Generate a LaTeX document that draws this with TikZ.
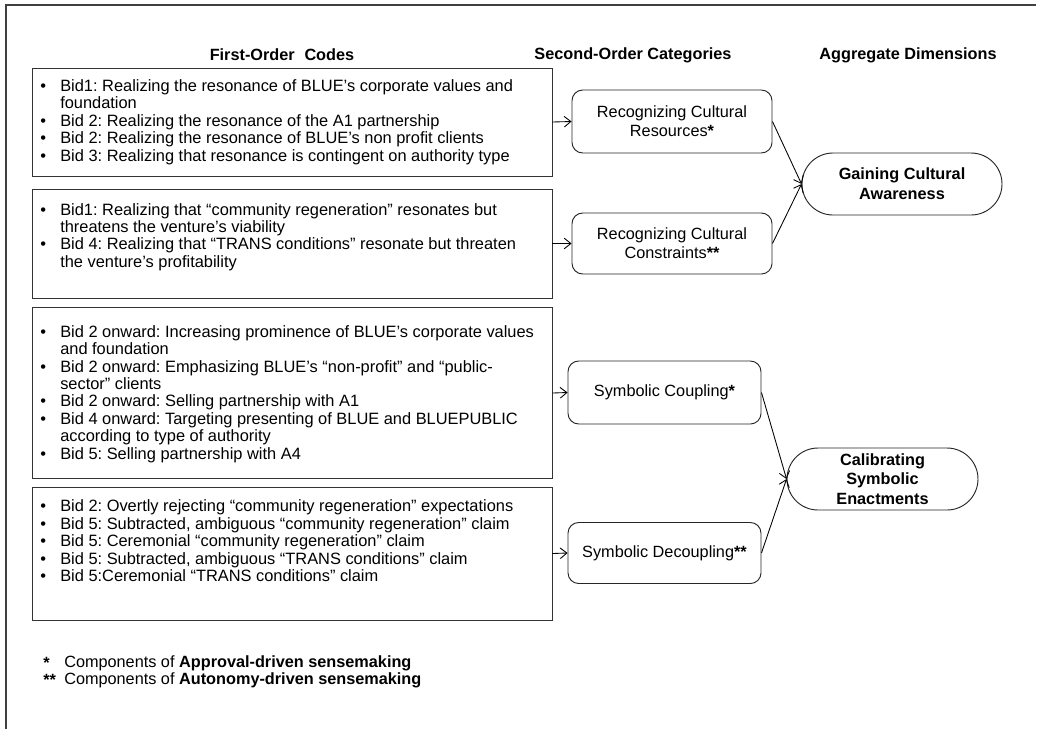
\documentclass[tikz,border=0pt]{standalone}
\usepackage{fontspec}
\setmainfont{Liberation Sans}
\usetikzlibrary{arrows.meta,shapes.misc}
\newcommand{\bul}{\makebox[15pt][l]{\textbullet}}
\newcommand{\ind}{\hspace*{15pt}}
\newcommand{\st}{\textbf{*}}
\frenchspacing
\begin{document}
\begin{tikzpicture}[x=0.75pt,y=-0.75pt,
  codebox/.style={draw=black!80,line width=0.7pt,inner sep=0pt},
  codetext/.style={anchor=west,inner sep=0pt,align=left,font=\fontsize{12.3pt}{13.1pt}\selectfont},
  catbox/.style={draw=black!85,line width=0.7pt,rounded corners=8pt,inner sep=0pt,align=center,font=\fontsize{12.2pt}{14.5pt}\selectfont},
  dimbox/.style={draw=black!85,line width=0.7pt,rounded rectangle,rounded rectangle arc length=180,inner sep=0pt,align=center,font=\fontsize{12.2pt}{14.8pt}\selectfont\bfseries},
  head/.style={font=\fontsize{12.2pt}{14pt}\selectfont\bfseries,inner sep=0pt},
  note/.style={anchor=west,inner sep=0pt,font=\fontsize{12.2pt}{14pt}\selectfont},
  link/.style={line width=0.65pt,-{Straight Barb[length=5pt,width=8pt]}}
]
\useasboundingbox (0,0) rectangle (1045,729);
% frame
\draw[line width=1.4pt,black!75] (6,729) -- (6,5) -- (1036,5);

% headers
\node[head] (h1) at (282,55) {First-Order\hspace{0.6em}Codes};
\node[head] (h2) at (633,55) {Second-Order Categories};
\node[head] (h3) at (908,55) {Aggregate Dimensions};

% first-order boxes
\node[codebox,minimum width=390pt,minimum height=81pt] (b1) at (292,122) {};
\node[codebox,minimum width=390pt,minimum height=81.75pt] (b2) at (292,243.5) {};
\node[codebox,minimum width=390pt,minimum height=128.25pt] (b3) at (292,393) {};
\node[codebox,minimum width=390pt,minimum height=99.75pt] (b4) at (292,553.5) {};

\node[codetext] (t1) at (40,122) {\bul Bid1: Realizing the resonance of BLUE’s corporate values and\\
\ind foundation\\
\bul Bid 2: Realizing the resonance of the A1 partnership\\
\bul Bid 2: Realizing the resonance of BLUE’s non profit clients\\
\bul Bid 3: Realizing that resonance is contingent on authority type};

\node[codetext] (t2) at (40,237) {\bul Bid1: Realizing that “community regeneration” resonates but\\
\ind threatens the venture’s viability\\
\bul Bid 4: Realizing that “TRANS conditions” resonate but threaten\\
\ind the venture’s profitability};

\node[codetext] (t3) at (40,394) {\bul Bid 2 onward: Increasing prominence of BLUE’s corporate values\\
\ind and foundation\\
\bul Bid 2 onward: Emphasizing BLUE’s “non-profit” and “public-\\
\ind sector” clients\\
\bul Bid 2 onward: Selling partnership with A1\\
\bul Bid 4 onward: Targeting presenting of BLUE and BLUEPUBLIC\\
\ind according to type of authority\\
\bul Bid 5: Selling partnership with A4};

\node[codetext] (t4) at (40,541) {\bul Bid 2: Overtly rejecting “community regeneration” expectations\\
\bul Bid 5: Subtracted, ambiguous “community regeneration” claim\\
\bul Bid 5: Ceremonial “community regeneration” claim\\
\bul Bid 5: Subtracted, ambiguous “TRANS conditions” claim\\
\bul Bid 5:Ceremonial “TRANS conditions” claim};

% second-order categories
\node[catbox,minimum width=150pt,minimum height=47.25pt] (c1) at (672,121.5) {Recognizing Cultural\\Resources\st};
\node[catbox,minimum width=150pt,minimum height=45.75pt] (c2) at (672,243.5) {Recognizing Cultural\\Constraints\st\st};
\node[catbox,minimum width=144.75pt,minimum height=47.25pt] (c3) at (664.5,392.5) {Symbolic Coupling\st};
\node[catbox,minimum width=144.75pt,minimum height=45.75pt] (c4) at (664.5,553) {Symbolic Decoupling\st\st};

% aggregate dimensions
\node[dimbox,minimum width=150pt,minimum height=46.5pt] (d1) at (902,184) {Gaining Cultural\\Awareness};
\node[dimbox,minimum width=143.25pt,minimum height=46.5pt] (d2) at (882.5,479) {Calibrating\\Symbolic\\Enactments};

% connectors
\draw[link] (b1.east) -- (c1.west);
\draw[link] (b2.east) -- (c2.west);
\draw[link] (b3.east) -- (c3.west);
\draw[link] (b4.east) -- (c4.west);
\draw[link] (c1.east) -- (d1.west);
\draw[link] (c2.east) -- (d1.west);
\draw[link] (c3.east) -- (d2.west);
\draw[link] (c4.east) -- (d2.west);

% notes
\node[note] (n1s) at (43,663) {\st};
\node[note] (n1) at (64,663) {Components of \textbf{Approval-driven sensemaking}};
\node[note] (n2s) at (43,680) {\st\st};
\node[note] (n2) at (64,680) {Components of \textbf{Autonomy-driven sensemaking}};
\end{tikzpicture}
\end{document}
